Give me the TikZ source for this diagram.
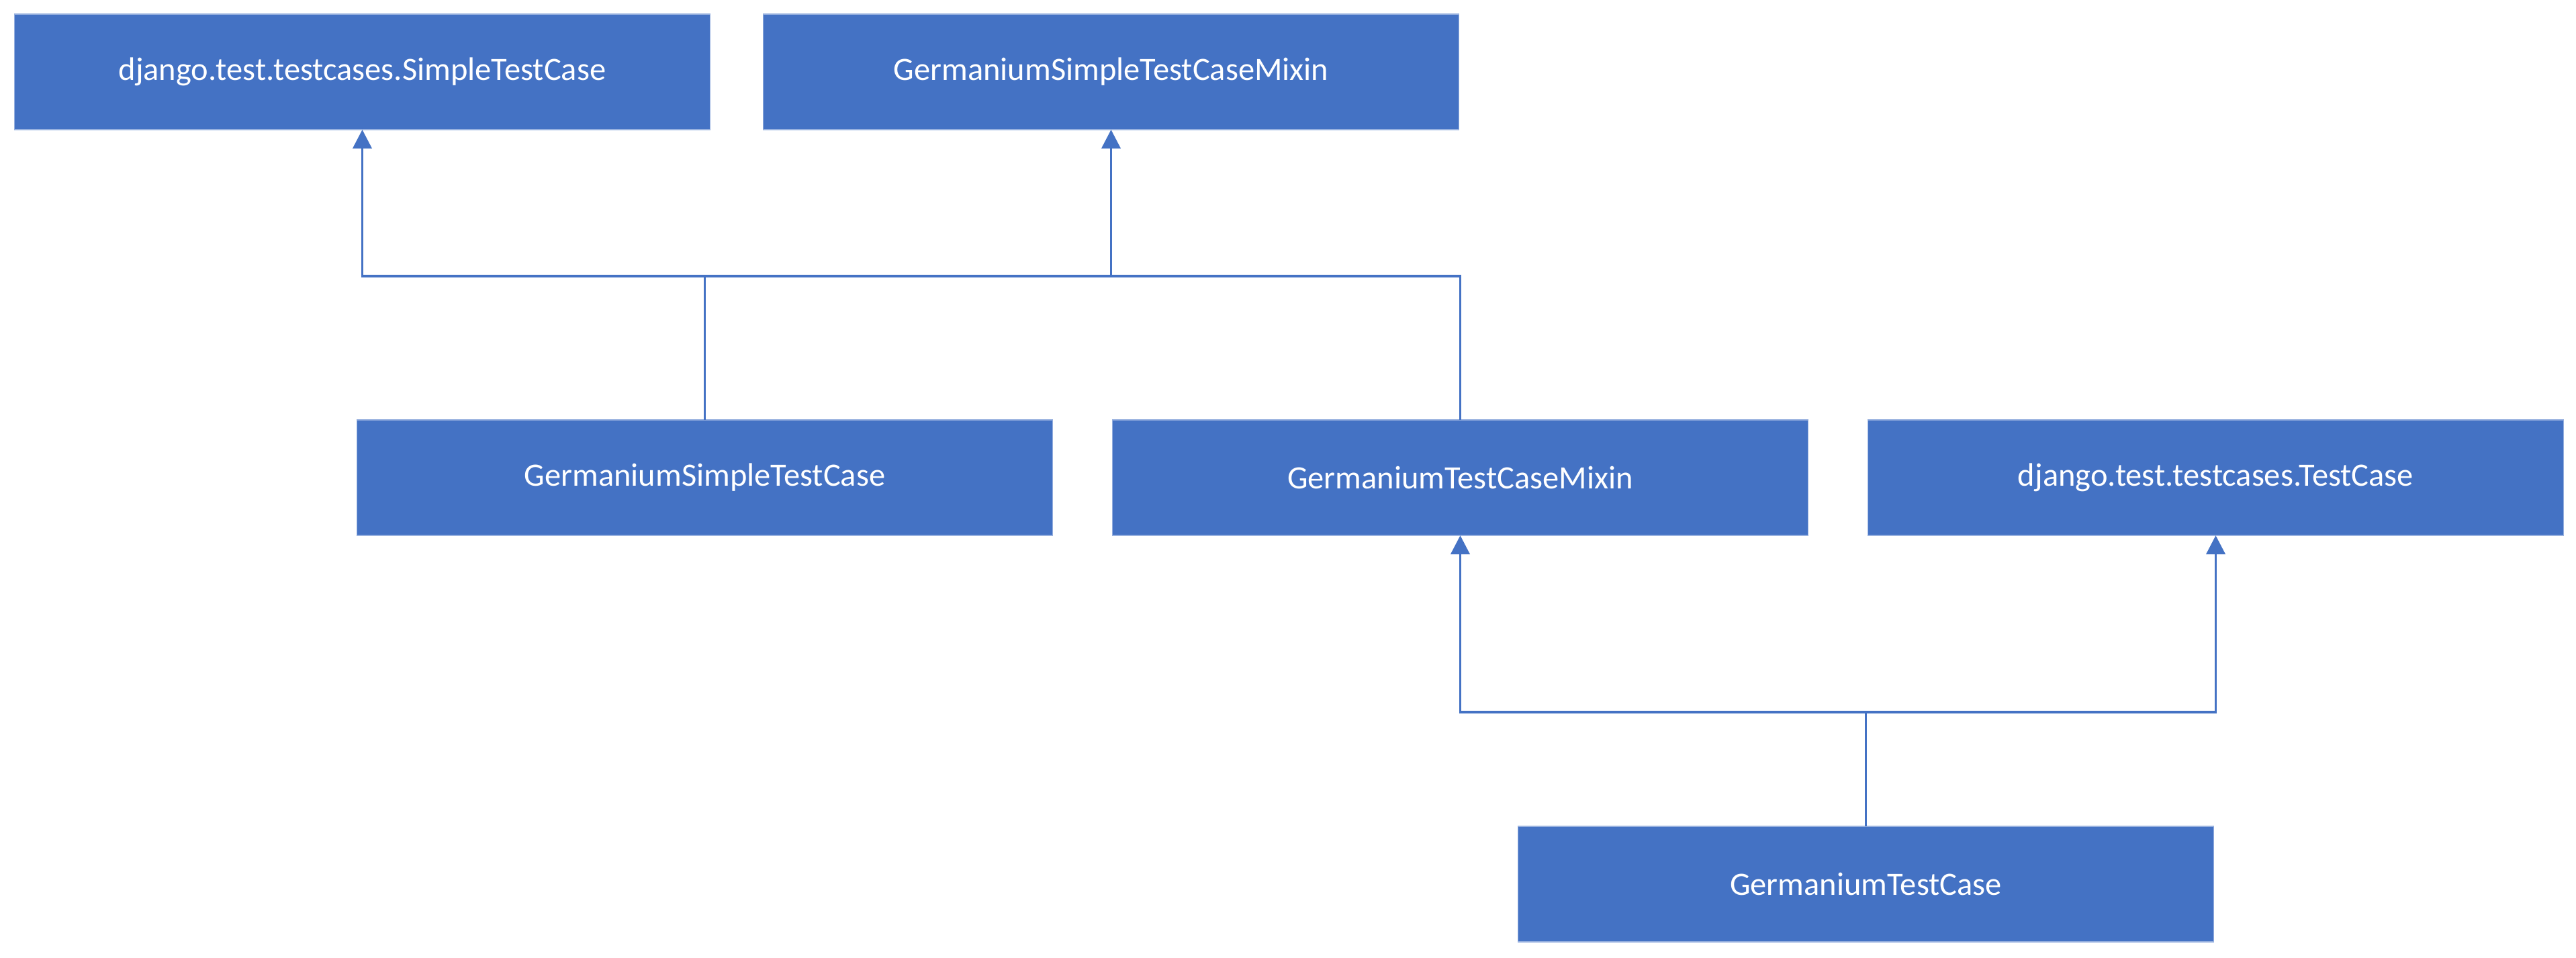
\documentclass[tikz,border=0pt]{standalone}
\usepackage{fontspec}
\setmainfont{Carlito}
\usepackage{xcolor}
\usepackage{tikz}
\usetikzlibrary{positioning,arrows.meta}

\definecolor{boxblue}{HTML}{4472C4}

\begin{document}
\begin{tikzpicture}[
    node distance=0.89cm,
    box/.style={draw=boxblue!55!white, line width=0.4pt, fill=boxblue, text=white,
      minimum width=10.36cm, minimum height=1.72cm, inner sep=0pt, outer sep=0pt,
      align=center, font=\fontsize{13.8}{16}\selectfont},
    link/.style={draw=boxblue, line width=1.1pt},
    arr/.style={link, -{Triangle[length=0.28cm, width=0.28cm]}}
  ]
    \useasboundingbox (0,0) rectangle (38.36,-14.25);
    \node[box] at (5.395,-1.07) (simple) {django.test.testcases.SimpleTestCase};
    \node[box, right=0.79cm of simple] (gsmixin) {GermaniumSimpleTestCaseMixin};
    \node[box] at (10.495,-7.11) (gsimple) {GermaniumSimpleTestCase};
    \node[box, right=of gsimple] (gmixin) {GermaniumTestCaseMixin};
    \node[box, right=of gmixin] (testcase) {django.test.testcases.TestCase};
    \node[box] at (27.785,-13.16) (gtest) {GermaniumTestCase};
    \coordinate (bustop) at (0,-4.11);
    \coordinate (busbot) at (0,-10.6);
    \draw[arr] (gsimple.north) -- (gsimple.north |- bustop) -| (simple.south);
    \draw[arr] (gsimple.north) -- (gsimple.north |- bustop) -| (gsmixin.south);
    \draw[link] (gmixin.north) |- (gsmixin.south |- bustop);
    \draw[arr] (gtest.north) -- (gtest.north |- busbot) -| (gmixin.south);
    \draw[arr] (gtest.north) -- (gtest.north |- busbot) -| (testcase.south);
  \end{tikzpicture}
\end{document}
